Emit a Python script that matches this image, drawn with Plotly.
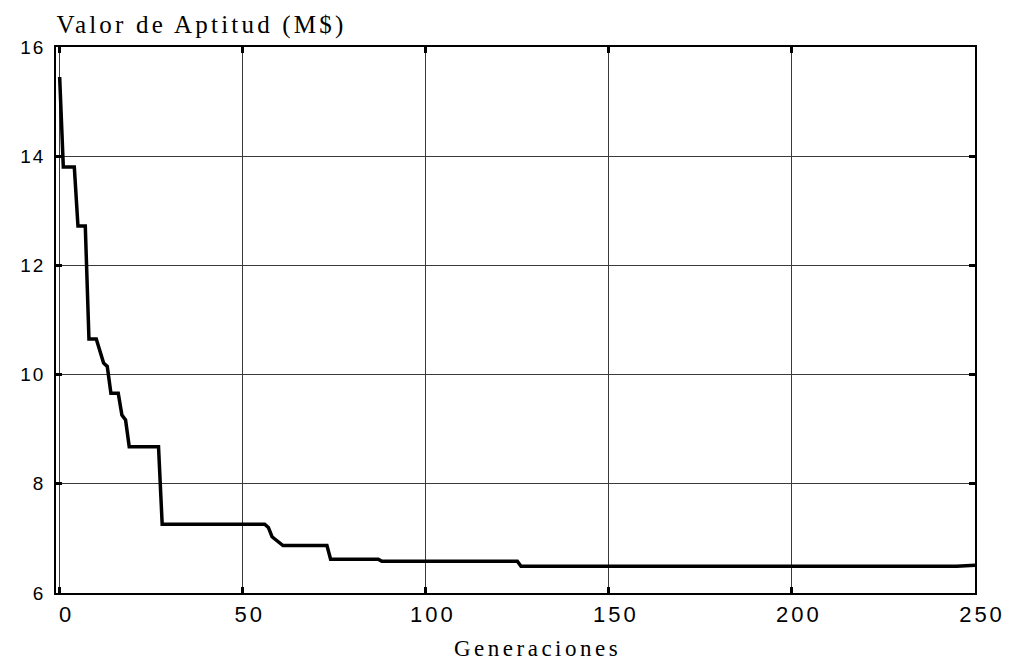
import plotly.graph_objects as go

# Best fitness value per generation (changes only where the value drops)
generaciones = [0, 1, 4, 5, 7, 8, 10, 12, 13, 14, 16, 17, 18, 19, 27, 28,
                56, 57, 58, 59, 61, 73, 74, 87, 88, 125, 126, 245, 250]
aptitud = [15.45, 13.80, 13.80, 12.72, 12.72, 10.65, 10.65, 10.21, 10.15, 9.66,
           9.66, 9.26, 9.17, 8.68, 8.68, 7.26, 7.26, 7.20, 7.03, 6.97, 6.87,
           6.87, 6.62, 6.62, 6.58, 6.58, 6.49, 6.49, 6.51]

x_ticks = [0, 50, 100, 150, 200, 250]
y_ticks = [6, 8, 10, 12, 14, 16]

fig = go.Figure()
fig.add_trace(go.Scatter(
    x=generaciones, y=aptitud, mode="lines",
    line=dict(color="black", width=3.5),
    showlegend=False, hoverinfo="x+y",
))

axis_common = dict(
    showline=True, linecolor="black", linewidth=1.5, mirror="ticks",
    ticks="inside", ticklen=6, tickwidth=3, tickcolor="black",
    showgrid=True, gridcolor="#3a3a3a", gridwidth=1,
    zeroline=False,
    tickfont=dict(family="Liberation Sans, Arial, sans-serif", color="black"),
)

fig.update_xaxes(
    range=[-1, 250], tickvals=x_ticks, ticktext=[str(v) for v in x_ticks],
    ticklabelstandoff=1, **axis_common,
)
fig.update_xaxes(tickfont_size=22)
fig.update_yaxes(
    range=[6, 16], tickvals=y_ticks, ticktext=[str(v) for v in y_ticks],
    ticklabelstandoff=5, **axis_common,
)
fig.update_yaxes(tickfont_size=19)

serif = "Liberation Serif, Times New Roman, serif"
fig.add_annotation(
    text="Valor de Aptitud (M$)", xref="paper", yref="paper",
    x=0.1583, y=1, xanchor="center", yanchor="middle", yshift=22,
    showarrow=False, font=dict(family=serif, size=25, color="black"),
)
fig.add_annotation(
    text="Generaciones", xref="paper", yref="paper",
    x=0.5, y=0, xanchor="center", yanchor="middle", xshift=22, yshift=-55,
    showarrow=False, font=dict(family=serif, size=23, color="black"),
)

fig.update_layout(
    width=1009, height=662,
    margin=dict(l=56, r=34, t=47, b=69),
    paper_bgcolor="white", plot_bgcolor="white",
)

# Wide letter spacing for the typewriter-like labels; x labels sit a bit right
spacing_js = """
var gd = document.getElementsByClassName('plotly-graph-div')[0];
function spread() {
  var notes = gd.querySelectorAll('.annotation-text');
  var gaps = ['3.2px', '3.5px'];
  notes.forEach(function (t, i) {
    t.style.letterSpacing = gaps[Math.min(i, gaps.length - 1)];
  });
  gd.querySelectorAll('.xtick text').forEach(function (t) {
    t.style.letterSpacing = '3px';
    t.setAttribute('dx', '7');
  });
  gd.querySelectorAll('.ytick text').forEach(function (t) {
    t.style.letterSpacing = '2px';
  });
}
spread();
gd.on('plotly_afterplot', spread);
"""

fig.write_html("out.html", post_script=spacing_js)
